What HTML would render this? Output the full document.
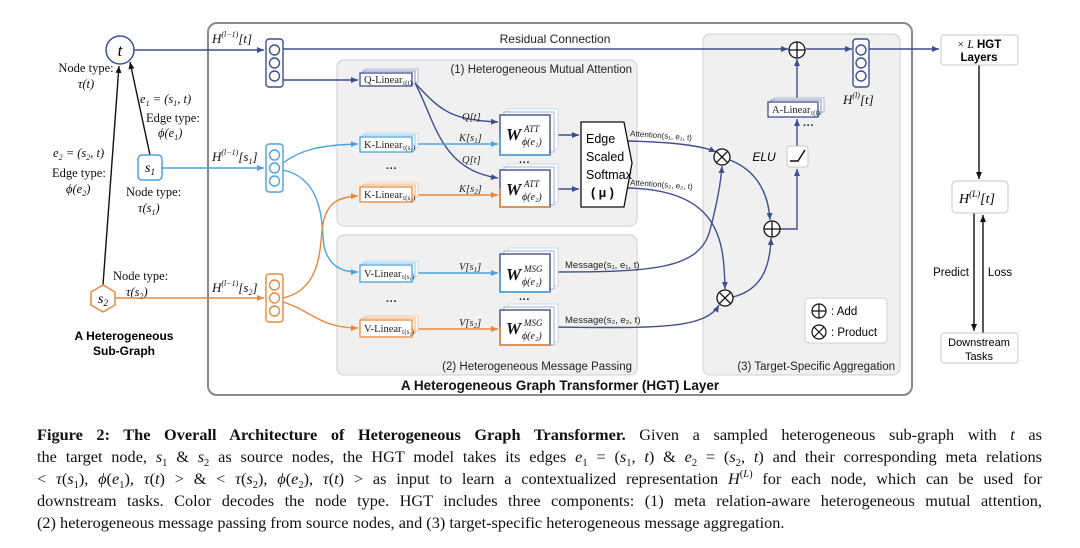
<!DOCTYPE html>
<html><head><meta charset="utf-8"><style>
html,body{margin:0;padding:0;background:#fff;width:1080px;height:548px;overflow:hidden}
svg{position:absolute;left:0;top:0}
.cap{position:absolute;left:37px;width:1005px;height:20px;font-family:"Liberation Serif",serif;font-size:16.3px;color:#111;white-space:nowrap;text-align:justify;text-align-last:justify;line-height:20px}
.b{font-size:10.5px;position:relative;top:4px}
.p{font-size:10.5px;position:relative;top:-7px}
</style></head><body>
<svg width="1080" height="548" viewBox="0 0 1080 548" xmlns="http://www.w3.org/2000/svg">
<defs>
<marker id="ab" markerWidth="8" markerHeight="8" refX="7" refY="4" orient="auto" markerUnits="userSpaceOnUse"><path d="M0,1 L7,4 L0,7z" fill="#3d4f8f"/></marker>
<marker id="al" markerWidth="8" markerHeight="8" refX="7" refY="4" orient="auto" markerUnits="userSpaceOnUse"><path d="M0,1 L7,4 L0,7z" fill="#4aa3df"/></marker>
<marker id="ao" markerWidth="8" markerHeight="8" refX="7" refY="4" orient="auto" markerUnits="userSpaceOnUse"><path d="M0,1 L7,4 L0,7z" fill="#e8883a"/></marker>
<marker id="ak" markerWidth="8" markerHeight="8" refX="7" refY="4" orient="auto" markerUnits="userSpaceOnUse"><path d="M0,1 L7,4 L0,7z" fill="#111"/></marker>
</defs>
<g font-family="Liberation Sans, sans-serif">
<rect x="208" y="23" width="704" height="372" rx="9" fill="#fff" stroke="#8a8a8a" stroke-width="2"/>
<rect x="337" y="60" width="300" height="166" rx="7" fill="#f0f0f0" stroke="#cfcfcf"/>
<rect x="337" y="235" width="300" height="140" rx="7" fill="#f0f0f0" stroke="#cfcfcf"/>
<rect x="703" y="34" width="197" height="341" rx="7" fill="#f0f0f0" stroke="#cfcfcf"/>
<text x="632" y="73" font-size="11.5" text-anchor="end" fill="#222">(1) Heterogeneous Mutual Attention</text>
<text x="632" y="370" font-size="11.5" text-anchor="end" fill="#222">(2) Heterogeneous Message Passing</text>
<text x="895" y="370" font-size="11.5" text-anchor="end" fill="#222">(3) Target-Specific Aggregation</text>
<text x="560" y="390" font-size="13.5" font-weight="bold" text-anchor="middle" fill="#111">A Heterogeneous Graph Transformer (HGT) Layer</text>
<text x="555" y="43" font-size="12" text-anchor="middle" fill="#222">Residual Connection</text>

<line x1="103" y1="285" x2="119" y2="66" stroke="#111" stroke-width="1.4" marker-end="url(#ak)"/>
<line x1="150" y1="155" x2="130" y2="62" stroke="#111" stroke-width="1.4" marker-end="url(#ak)"/>
<circle cx="120" cy="50" r="14" fill="#fff" stroke="#3d4f8f" stroke-width="1.5"/>
<text x="120" y="56" font-size="17" text-anchor="middle" font-family="Liberation Serif,serif" font-style="italic">t</text>
<rect x="138" y="155" width="24" height="25" rx="4" fill="#fff" stroke="#4aa3df" stroke-width="1.5"/>
<text x="150" y="172" font-size="14" text-anchor="middle" font-family="Liberation Serif,serif" font-style="italic">s<tspan font-size="9" dy="3">1</tspan></text>
<polygon points="103,285 115,292 115,305 103,312 91,305 91,292" fill="#fff" stroke="#e8883a" stroke-width="1.5"/>
<text x="103" y="303" font-size="14" text-anchor="middle" font-family="Liberation Serif,serif" font-style="italic">s<tspan font-size="9" dy="3">2</tspan></text>
<g font-family="Liberation Serif,serif" font-size="12.5" fill="#111">
<text x="86" y="72" text-anchor="middle">Node type:</text>
<text x="86" y="88" text-anchor="middle" font-style="italic">τ(t)</text>
<text x="140" y="103" font-style="italic">e<tspan font-size="8" dy="3">1</tspan><tspan dy="-3"> = (s</tspan><tspan font-size="8" dy="3">1</tspan><tspan dy="-3">, t)</tspan></text>
<text x="146" y="122">Edge type:</text>
<text x="158" y="137" font-style="italic">ϕ(e<tspan font-size="8" dy="3">1</tspan><tspan dy="-3">)</tspan></text>
<text x="53" y="157" font-style="italic">e<tspan font-size="8" dy="3">2</tspan><tspan dy="-3"> = (s</tspan><tspan font-size="8" dy="3">2</tspan><tspan dy="-3">, t)</tspan></text>
<text x="52" y="177">Edge type:</text>
<text x="66" y="193" font-style="italic">ϕ(e<tspan font-size="8" dy="3">2</tspan><tspan dy="-3">)</tspan></text>
<text x="126" y="196">Node type:</text>
<text x="138" y="212" font-style="italic">τ(s<tspan font-size="8" dy="3">1</tspan><tspan dy="-3">)</tspan></text>
<text x="113" y="280">Node type:</text>
<text x="126" y="296" font-style="italic">τ(s<tspan font-size="8" dy="3">2</tspan><tspan dy="-3">)</tspan></text>
</g>
<text x="124" y="340" font-size="12" font-weight="bold" text-anchor="middle">A Heterogeneous</text>
<text x="124" y="355" font-size="12" font-weight="bold" text-anchor="middle">Sub-Graph</text>

<line x1="134" y1="50" x2="264" y2="50" stroke="#3d4f8f" stroke-width="1.5" marker-end="url(#ab)"/>
<line x1="162" y1="168" x2="264" y2="168" stroke="#4aa3df" stroke-width="1.5" marker-end="url(#al)"/>
<line x1="116" y1="298" x2="264" y2="298" stroke="#e8883a" stroke-width="1.5" marker-end="url(#ao)"/>
<g font-family="Liberation Serif,serif" font-style="italic" font-size="13" fill="#111">
<text x="212" y="43">H<tspan font-size="8" dy="-6">(l−1)</tspan><tspan dy="6">[t]</tspan></text>
<text x="212" y="161">H<tspan font-size="8" dy="-6">(l−1)</tspan><tspan dy="6">[s</tspan><tspan font-size="8" dy="3">1</tspan><tspan dy="-3">]</tspan></text>
<text x="212" y="292">H<tspan font-size="8" dy="-6">(l−1)</tspan><tspan dy="6">[s</tspan><tspan font-size="8" dy="3">2</tspan><tspan dy="-3">]</tspan></text>
<text x="843" y="104">H<tspan font-size="8" dy="-6">(l)</tspan><tspan dy="6">[t]</tspan></text>
</g>
<g fill="#fff" stroke-width="1.4">
<g stroke="#3d4f8f"><rect x="266" y="39" width="17" height="48" rx="3"/><circle cx="274.5" cy="50" r="5"/><circle cx="274.5" cy="63" r="5"/><circle cx="274.5" cy="76" r="5"/></g>
<g stroke="#4aa3df"><rect x="266" y="144" width="17" height="48" rx="3"/><circle cx="274.5" cy="155" r="5"/><circle cx="274.5" cy="168" r="5"/><circle cx="274.5" cy="181" r="5"/></g>
<g stroke="#e8883a"><rect x="266" y="274" width="17" height="48" rx="3"/><circle cx="274.5" cy="285" r="5"/><circle cx="274.5" cy="298" r="5"/><circle cx="274.5" cy="311" r="5"/></g>
<g stroke="#3d4f8f"><rect x="853" y="39" width="16" height="48" rx="3"/><circle cx="861" cy="50" r="5"/><circle cx="861" cy="63" r="5"/><circle cx="861" cy="76" r="5"/></g>
</g>
<line x1="283" y1="49" x2="788" y2="49" stroke="#3d4f8f" stroke-width="1.5" marker-end="url(#ab)"/>
<line x1="806" y1="49" x2="852" y2="49" stroke="#3d4f8f" stroke-width="1.5" marker-end="url(#ab)"/>
<line x1="869" y1="49" x2="939" y2="49" stroke="#3d4f8f" stroke-width="1.5" marker-end="url(#ab)"/>
<g fill="none" stroke-width="1.4">
<path d="M283,80 L358,80" stroke="#3d4f8f" marker-end="url(#ab)"/>
<path d="M283,163 C300,150 320,145 358,144" stroke="#4aa3df" marker-end="url(#al)"/>
<path d="M283,170 C330,180 320,240 325,250 C330,265 340,272 358,272" stroke="#4aa3df" marker-end="url(#al)"/>
<path d="M283,298 C320,290 320,250 322,230 C325,205 335,197 358,196" stroke="#e8883a" marker-end="url(#ao)"/>
<path d="M283,302 C310,310 320,328 358,328" stroke="#e8883a" marker-end="url(#ao)"/>
<path d="M415,83 C440,110 450,120 498,122" stroke="#3d4f8f" marker-end="url(#ab)"/>
<path d="M415,83 C435,120 440,170 498,178" stroke="#3d4f8f" marker-end="url(#ab)"/>
<path d="M415,144 L498,144" stroke="#4aa3df" marker-end="url(#al)"/>
<path d="M415,195 L498,195" stroke="#e8883a" marker-end="url(#ao)"/>
<path d="M415,273 L498,273" stroke="#4aa3df" marker-end="url(#al)"/>
<path d="M415,329 L498,329" stroke="#e8883a" marker-end="url(#ao)"/>
<path d="M551,135 L579,135" stroke="#3d4f8f" marker-end="url(#ab)"/>
<path d="M551,189 L579,189" stroke="#3d4f8f" marker-end="url(#ab)"/>
<path d="M627,141 C670,142 700,145 716,152" stroke="#3d4f8f" marker-end="url(#ab)"/>
<path d="M627,188 C720,190 724,240 725,289" stroke="#3d4f8f" marker-end="url(#ab)"/>
<path d="M552,272 C650,272 700,270 710,230 C718,200 721,180 722,166" stroke="#3d4f8f" marker-end="url(#ab)"/>
<path d="M552,327 C650,328 705,330 719,305" stroke="#3d4f8f" marker-end="url(#ab)"/>
<path d="M730,160 C755,170 768,190 770,220" stroke="#3d4f8f" marker-end="url(#ab)"/>
<path d="M733,297 C760,290 770,270 771,238" stroke="#3d4f8f" marker-end="url(#ab)"/>
<path d="M780,229 L797,229 L797,169" stroke="#3d4f8f" marker-end="url(#ab)"/>
<path d="M797,146 L797,119" stroke="#3d4f8f" marker-end="url(#ab)"/>
<path d="M797,102 L797,59" stroke="#3d4f8f" marker-end="url(#ab)"/>
<path d="M979,65 L979,179" stroke="#111" marker-end="url(#ak)"/>
<path d="M974,213 L974,331" stroke="#111" marker-end="url(#ak)"/>
<path d="M983,333 L983,215" stroke="#111" marker-end="url(#ak)"/>
</g>
<g font-family="Liberation Serif,serif" font-size="10.5" fill="#222">
<g fill="#fff"><rect x="366" y="69" width="52" height="13" stroke="#aab4d4"/><rect x="363" y="71" width="52" height="13" stroke="#7f8cbb"/><rect x="360" y="73" width="52" height="13" stroke="#3d4f8f" stroke-width="1.3"/></g>
<text x="364" y="83">Q-Linear<tspan font-size="7" dy="2">τ(t)</tspan></text>
<g fill="#fff"><rect x="366" y="133" width="52" height="14" stroke="#b6dcf4"/><rect x="363" y="135" width="52" height="14" stroke="#86c2ea"/><rect x="360" y="137" width="52" height="15" stroke="#4aa3df" stroke-width="1.3"/></g>
<text x="364" y="148">K-Linear<tspan font-size="7" dy="2">τ(s₁)</tspan></text>
<g fill="#fff"><rect x="366" y="183" width="52" height="14" stroke="#f4c8a2"/><rect x="363" y="185" width="52" height="14" stroke="#efa86e"/><rect x="360" y="187" width="52" height="15" stroke="#e8883a" stroke-width="1.3"/></g>
<text x="364" y="198">K-Linear<tspan font-size="7" dy="2">τ(s₂)</tspan></text>
<g fill="#fff"><rect x="366" y="261" width="52" height="15" stroke="#b6dcf4"/><rect x="363" y="263" width="52" height="15" stroke="#86c2ea"/><rect x="360" y="265" width="52" height="17" stroke="#4aa3df" stroke-width="1.3"/></g>
<text x="364" y="277">V-Linear<tspan font-size="7" dy="2">τ(s₁)</tspan></text>
<g fill="#fff"><rect x="366" y="316" width="52" height="15" stroke="#f4c8a2"/><rect x="363" y="318" width="52" height="15" stroke="#efa86e"/><rect x="360" y="320" width="52" height="17" stroke="#e8883a" stroke-width="1.3"/></g>
<text x="364" y="332">V-Linear<tspan font-size="7" dy="2">τ(s₂)</tspan></text>
<g fill="#fff"><rect x="774" y="98" width="50" height="14" stroke="#aab4d4"/><rect x="771" y="100" width="50" height="14" stroke="#7f8cbb"/><rect x="768" y="102" width="50" height="15" stroke="#3d4f8f" stroke-width="1.3"/></g>
<text x="772" y="113">A-Linear<tspan font-size="7" dy="2">τ(t)</tspan></text>
<text x="386" y="172" font-family="Liberation Sans,sans-serif" font-size="11" font-weight="bold">···</text>
<text x="386" y="305" font-family="Liberation Sans,sans-serif" font-size="11" font-weight="bold">···</text>
<text x="519" y="166" font-family="Liberation Sans,sans-serif" font-size="11" font-weight="bold">···</text>
<text x="519" y="303" font-family="Liberation Sans,sans-serif" font-size="11" font-weight="bold">···</text>
<text x="803" y="129" font-family="Liberation Sans,sans-serif" font-size="11" font-weight="bold">···</text>
<g font-style="italic" font-size="10.5">
<text x="462" y="120">Q[t]</text><text x="459" y="141">K[s<tspan font-size="7" dy="2">1</tspan><tspan dy="-2">]</tspan></text>
<text x="462" y="163">Q[t]</text><text x="459" y="192">K[s<tspan font-size="7" dy="2">2</tspan><tspan dy="-2">]</tspan></text>
<text x="459" y="270">V[s<tspan font-size="7" dy="2">1</tspan><tspan dy="-2">]</tspan></text>
<text x="459" y="326">V[s<tspan font-size="7" dy="2">2</tspan><tspan dy="-2">]</tspan></text>
</g>
</g>
<g fill="#fff">
<rect x="508" y="109" width="50" height="40" stroke="#c9d8ee"/><rect x="504" y="112" width="50" height="40" stroke="#9fb0d6"/>
<rect x="500" y="115" width="50" height="40" stroke="#3d4f8f" stroke-width="1.4"/>
<path d="M500,135 L500,155 L550,155" stroke="#4aa3df" stroke-width="1.6" fill="none"/>
<rect x="508" y="164" width="50" height="38" stroke="#c9d8ee"/><rect x="504" y="167" width="50" height="38" stroke="#9fb0d6"/>
<rect x="500" y="170" width="50" height="37" stroke="#3d4f8f" stroke-width="1.4"/>
<path d="M500,188 L500,207 L550,207" stroke="#e8883a" stroke-width="1.6" fill="none"/>
<rect x="508" y="248" width="50" height="38" stroke="#c9d8ee"/><rect x="504" y="251" width="50" height="38" stroke="#9fb0d6"/>
<rect x="500" y="254" width="50" height="38" stroke="#3d4f8f" stroke-width="1.4"/>
<path d="M500,273 L500,292 L550,292" stroke="#4aa3df" stroke-width="1.6" fill="none"/>
<rect x="508" y="304" width="50" height="38" stroke="#c9d8ee"/><rect x="504" y="307" width="50" height="38" stroke="#9fb0d6"/>
<rect x="500" y="310" width="50" height="35" stroke="#3d4f8f" stroke-width="1.4"/>
<path d="M500,327 L500,345 L550,345" stroke="#e8883a" stroke-width="1.6" fill="none"/>
</g>
<g font-family="Liberation Serif,serif" font-style="italic" fill="#111">
<text x="506" y="140" font-size="17" font-weight="bold">W</text><text x="524" y="132" font-size="9">ATT</text><text x="522" y="145" font-size="10">ϕ(e₁)</text>
<text x="506" y="195" font-size="17" font-weight="bold">W</text><text x="524" y="187" font-size="9">ATT</text><text x="522" y="200" font-size="10">ϕ(e₂)</text>
<text x="506" y="280" font-size="17" font-weight="bold">W</text><text x="524" y="272" font-size="9">MSG</text><text x="522" y="285" font-size="10">ϕ(e₁)</text>
<text x="506" y="334" font-size="17" font-weight="bold">W</text><text x="524" y="326" font-size="9">MSG</text><text x="522" y="339" font-size="10">ϕ(e₂)</text>
</g>
<polygon points="581,122 624,122 632,163 624,207 581,207" fill="#fff" stroke="#111" stroke-width="1.3"/>
<text x="586" y="143" font-size="12.5">Edge</text>
<text x="586" y="161" font-size="12.5">Scaled</text>
<text x="586" y="179" font-size="12.5">Softmax</text>
<text x="591" y="197" font-size="12.5" font-weight="bold">( μ )</text>
<g font-size="8" fill="#222">
<text x="630" y="136" transform="rotate(4 630 136)">Attention(s₁, e₁, t)</text>
<text x="630" y="185" transform="rotate(4 630 185)">Attention(s₂, e₂, t)</text>
<text x="565" y="268" font-size="9.5">Message(s₁, e₁, t)</text>
<text x="565" y="323" font-size="9.5">Message(s₂, e₂, t)</text>
</g>
<g fill="#fff" stroke="#111" stroke-width="1.3">
<circle cx="797" cy="50" r="8"/><path d="M789,50 H805 M797,42 V58"/>
<circle cx="772" cy="229" r="8"/><path d="M764,229 H780 M772,221 V237"/>
<circle cx="722" cy="157" r="8"/><path d="M716.3,151.3 L727.7,162.7 M727.7,151.3 L716.3,162.7"/>
<circle cx="725" cy="298" r="8"/><path d="M719.3,292.3 L730.7,303.7 M730.7,292.3 L719.3,303.7"/>
</g>
<rect x="787" y="146" width="21" height="21" rx="3" fill="#fff" stroke="#c8c8c8"/>
<path d="M790,161 L798,161 L805,150" stroke="#111" stroke-width="1.5" fill="none"/>
<text x="764" y="161" font-size="12" font-style="italic" text-anchor="middle">ELU</text>
<rect x="805" y="298" width="82" height="45" rx="4" fill="#fff" stroke="#d0d0d0"/>
<g fill="none" stroke="#111" stroke-width="1.2">
<circle cx="819" cy="311" r="7"/><path d="M812,311 H826 M819,304 V318"/>
<circle cx="819" cy="332" r="7"/><path d="M814,327 L824,337 M824,327 L814,337"/>
</g>
<text x="831" y="315" font-size="11.5">: Add</text>
<text x="831" y="336" font-size="11.5">: Product</text>
<rect x="941" y="35" width="77" height="30" rx="3" fill="#fff" stroke="#c8c8c8"/>
<text x="979" y="48" font-size="11.5" text-anchor="middle"><tspan font-family="Liberation Serif,serif" font-style="italic">× L</tspan> <tspan font-weight="bold">HGT</tspan></text>
<text x="979" y="61" font-size="11.5" text-anchor="middle" font-weight="bold">Layers</text>
<rect x="952" y="181" width="56" height="32" rx="4" fill="#fff" stroke="#c8c8c8"/>
<text x="959" y="203" font-size="14" font-family="Liberation Serif,serif" font-style="italic">H<tspan font-size="9" dy="-6">(L)</tspan><tspan dy="6">[t]</tspan></text>
<rect x="941" y="333" width="77" height="30" rx="3" fill="#fff" stroke="#c8c8c8"/>
<text x="979" y="346" font-size="11" text-anchor="middle">Downstream</text>
<text x="979" y="360" font-size="11" text-anchor="middle">Tasks</text>
<text x="951" y="276" font-size="11.5" text-anchor="middle">Predict</text>
<text x="1000" y="276" font-size="11.5" text-anchor="middle">Loss</text>
</g>
</svg>
<div class="cap" style="top:425px"><b>Figure 2: The Overall Architecture of Heterogeneous Graph Transformer.</b> Given a sampled heterogeneous sub-graph with <i>t</i> as</div>
<div class="cap" style="top:447px">the target node, <i>s</i><span class="b">1</span> &amp; <i>s</i><span class="b">2</span> as source nodes, the HGT model takes its edges <i>e</i><span class="b">1</span> = (<i>s</i><span class="b">1</span>, <i>t</i>) &amp; <i>e</i><span class="b">2</span> = (<i>s</i><span class="b">2</span>, <i>t</i>) and their corresponding meta relations</div>
<div class="cap" style="top:469px">&lt; <i>τ</i>(<i>s</i><span class="b">1</span>), <i>ϕ</i>(<i>e</i><span class="b">1</span>), <i>τ</i>(<i>t</i>) &gt; &amp; &lt; <i>τ</i>(<i>s</i><span class="b">2</span>), <i>ϕ</i>(<i>e</i><span class="b">2</span>), <i>τ</i>(<i>t</i>) &gt; as input to learn a contextualized representation <i>H</i><span class="p">(<i>L</i>)</span> for each node, which can be used for</div>
<div class="cap" style="top:491px">downstream tasks. Color decodes the node type. HGT includes three components: (1) meta relation-aware heterogeneous mutual attention,</div>
<div class="cap" style="top:513px;text-align-last:left">(2) heterogeneous message passing from source nodes, and (3) target-specific heterogeneous message aggregation.</div>
</body></html>
